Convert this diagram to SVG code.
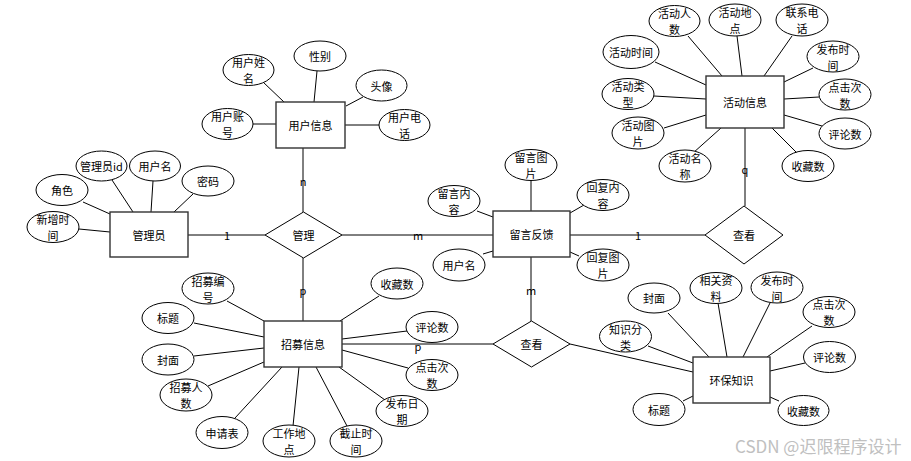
<svg xmlns="http://www.w3.org/2000/svg" width="911" height="461" viewBox="0 0 911 461">
<style>
text{font-family:"Noto Sans CJK SC","Liberation Sans",sans-serif;font-size:11px;fill:#000;text-anchor:middle;dominant-baseline:central}
.e{fill:#fff;stroke:#000;stroke-width:1}
.r{fill:#fff;stroke:#333;stroke-width:1.4}
.d{fill:#fff;stroke:#000;stroke-width:1}
.c line{stroke:#000;stroke-width:1}
.lb{font-size:11px}
.wm{font-size:17px;fill:#c0c0c0;text-anchor:start}
</style>
<rect width="911" height="461" fill="#fff"/>
<g class="c" id="connectors">
<line x1="263" y1="82" x2="284" y2="102"/>
<line x1="317" y1="71" x2="314" y2="102"/>
<line x1="363" y1="97" x2="346" y2="106"/>
<line x1="253" y1="124" x2="276" y2="124"/>
<line x1="345" y1="125" x2="379" y2="125"/>
<line x1="112" y1="180" x2="133" y2="212"/>
<line x1="153" y1="181" x2="151" y2="212"/>
<line x1="193" y1="194" x2="174" y2="212"/>
<line x1="83" y1="202" x2="110" y2="214"/>
<line x1="79" y1="229" x2="110" y2="232"/>
<line x1="688" y1="36" x2="722" y2="76"/>
<line x1="737" y1="36" x2="742" y2="76"/>
<line x1="792" y1="36" x2="764" y2="76"/>
<line x1="655" y1="62" x2="706" y2="85"/>
<line x1="813" y1="68" x2="784" y2="82"/>
<line x1="654" y1="96" x2="706" y2="99"/>
<line x1="819" y1="97" x2="784" y2="99"/>
<line x1="664" y1="128" x2="706" y2="115"/>
<line x1="822" y1="126" x2="784" y2="115"/>
<line x1="693" y1="153" x2="721" y2="128"/>
<line x1="797" y1="153" x2="772" y2="128"/>
<line x1="531" y1="180" x2="531" y2="211"/>
<line x1="477" y1="211" x2="493" y2="217"/>
<line x1="584" y1="205" x2="570" y2="213"/>
<line x1="483" y1="254" x2="493" y2="251"/>
<line x1="579" y1="256" x2="570" y2="252"/>
<line x1="668" y1="313" x2="709" y2="357"/>
<line x1="718" y1="303" x2="727" y2="357"/>
<line x1="770" y1="303" x2="743" y2="357"/>
<line x1="812" y1="326" x2="767" y2="357"/>
<line x1="648" y1="346" x2="693" y2="363"/>
<line x1="805" y1="363" x2="770" y2="371"/>
<line x1="683" y1="401" x2="693" y2="396"/>
<line x1="779" y1="401" x2="770" y2="397"/>
<line x1="227" y1="301" x2="264" y2="321"/>
<line x1="194" y1="323" x2="264" y2="337"/>
<line x1="194" y1="356" x2="264" y2="348"/>
<line x1="208" y1="386" x2="264" y2="362"/>
<line x1="235" y1="418" x2="282" y2="367"/>
<line x1="293" y1="426" x2="299" y2="367"/>
<line x1="347" y1="426" x2="316" y2="367"/>
<line x1="385" y1="400" x2="339" y2="367"/>
<line x1="408" y1="368" x2="342" y2="350"/>
<line x1="407" y1="331" x2="342" y2="339"/>
<line x1="379" y1="296" x2="340" y2="321"/>
<line x1="303" y1="148" x2="303" y2="212"/>
<line x1="188" y1="235" x2="265" y2="235"/>
<line x1="342" y1="235" x2="493" y2="235"/>
<line x1="570" y1="235" x2="705" y2="235"/>
<line x1="745" y1="128" x2="745" y2="206"/>
<line x1="531" y1="257" x2="531" y2="321"/>
<line x1="303" y1="258" x2="303" y2="321"/>
<line x1="342" y1="344" x2="493" y2="344"/>
<line x1="570" y1="344" x2="693" y2="372"/>
</g>
<g id="cardinalities">
<text class="lb" x="303" y="181">n</text>
<text class="lb" x="227" y="235">1</text>
<text class="lb" x="418" y="235">m</text>
<text class="lb" x="638" y="235">1</text>
<text class="lb" x="745" y="169">q</text>
<text class="lb" x="531" y="290">m</text>
<text class="lb" x="303" y="290">p</text>
<text class="lb" x="418" y="346">p</text>
</g>
<g id="user-info"><rect class="r" x="276" y="102" width="69" height="46"/><text x="310.5" y="125">用户信息</text></g>
<g id="admin"><rect class="r" x="110" y="212" width="78" height="45"/><text x="149" y="235">管理员</text></g>
<g id="activity"><rect class="r" x="706" y="76" width="78" height="52"/><text x="745" y="102">活动信息</text></g>
<g id="feedback"><rect class="r" x="493" y="211" width="77" height="46"/><text x="531.5" y="234">留言反馈</text></g>
<g id="recruit"><rect class="r" x="264" y="321" width="78" height="46"/><text x="303" y="344">招募信息</text></g>
<g id="env"><rect class="r" x="693" y="357" width="77" height="46"/><text x="731.5" y="380">环保知识</text></g>
<g id="rel-manage"><polygon class="d" points="265,235 303.5,212 342,235 303.5,258"/><text x="303.5" y="235">管理</text></g>
<g id="rel-view1"><polygon class="d" points="705,235 744,206 783,235 744,264"/><text x="744" y="235">查看</text></g>
<g id="rel-view2"><polygon class="d" points="493,344 531.5,321 570,344 531.5,367"/><text x="531.5" y="344">查看</text></g>
<g id="a-user-name"><ellipse class="e" cx="248.5" cy="70" rx="25.5" ry="15.5"/><text x="248.5" y="62">用户姓<tspan x="248.5" dy="16">名</tspan></text></g>
<g id="a-gender"><ellipse class="e" cx="320" cy="56" rx="26" ry="15"/><text x="320" y="56">性别</text></g>
<g id="a-avatar"><ellipse class="e" cx="381.5" cy="85.5" rx="25.5" ry="15.5"/><text x="381.5" y="85.5">头像</text></g>
<g id="a-user-acct"><ellipse class="e" cx="227.5" cy="124" rx="25.5" ry="15.5"/><text x="227.5" y="116">用户账<tspan x="227.5" dy="16">号</tspan></text></g>
<g id="a-user-phone"><ellipse class="e" cx="404.5" cy="125" rx="25.5" ry="15.5"/><text x="404.5" y="117">用户电<tspan x="404.5" dy="16">话</tspan></text></g>
<g id="a-admin-id"><ellipse class="e" cx="101.5" cy="166" rx="25.5" ry="15"/><text x="101.5" y="166">管理员id</text></g>
<g id="a-admin-uname"><ellipse class="e" cx="155" cy="166" rx="25.5" ry="15"/><text x="155" y="166">用户名</text></g>
<g id="a-admin-pwd"><ellipse class="e" cx="208" cy="181" rx="26" ry="15"/><text x="208" y="181">密码</text></g>
<g id="a-admin-role"><ellipse class="e" cx="62" cy="190" rx="26" ry="15.5"/><text x="62" y="190">角色</text></g>
<g id="a-admin-time"><ellipse class="e" cx="53" cy="227" rx="26" ry="15.5"/><text x="53" y="219">新增时<tspan x="53" dy="16">间</tspan></text></g>
<g id="a-act-num"><ellipse class="e" cx="674.5" cy="21" rx="25.5" ry="15.5"/><text x="674.5" y="13">活动人<tspan x="674.5" dy="16">数</tspan></text></g>
<g id="a-act-place"><ellipse class="e" cx="735" cy="20" rx="26" ry="16"/><text x="735" y="12">活动地<tspan x="735" dy="16">点</tspan></text></g>
<g id="a-act-phone"><ellipse class="e" cx="802" cy="20" rx="26" ry="16"/><text x="802" y="12">联系电<tspan x="802" dy="16">话</tspan></text></g>
<g id="a-act-time"><ellipse class="e" cx="631" cy="52" rx="28" ry="16.5"/><text x="631" y="52">活动时间</text></g>
<g id="a-act-pub"><ellipse class="e" cx="833" cy="56.5" rx="26" ry="15.5"/><text x="833" y="48.5">发布时<tspan x="833" dy="16">间</tspan></text></g>
<g id="a-act-type"><ellipse class="e" cx="628" cy="94" rx="26" ry="15.5"/><text x="628" y="86">活动类<tspan x="628" dy="16">型</tspan></text></g>
<g id="a-act-click"><ellipse class="e" cx="845" cy="94.5" rx="26" ry="15.5"/><text x="845" y="86.5">点击次<tspan x="845" dy="16">数</tspan></text></g>
<g id="a-act-img"><ellipse class="e" cx="638" cy="133" rx="26" ry="16"/><text x="638" y="125">活动图<tspan x="638" dy="16">片</tspan></text></g>
<g id="a-act-comm"><ellipse class="e" cx="845" cy="133.5" rx="26" ry="15.5"/><text x="845" y="133.5">评论数</text></g>
<g id="a-act-name"><ellipse class="e" cx="685" cy="166" rx="26" ry="16"/><text x="685" y="158">活动名<tspan x="685" dy="16">称</tspan></text></g>
<g id="a-act-fav"><ellipse class="e" cx="808" cy="166" rx="26" ry="15.5"/><text x="808" y="166">收藏数</text></g>
<g id="a-msg-img"><ellipse class="e" cx="531" cy="165" rx="26" ry="15.5"/><text x="531" y="157">留言图<tspan x="531" dy="16">片</tspan></text></g>
<g id="a-msg-content"><ellipse class="e" cx="454" cy="201" rx="26" ry="15.5"/><text x="454" y="193">留言内<tspan x="454" dy="16">容</tspan></text></g>
<g id="a-reply-content"><ellipse class="e" cx="603" cy="195" rx="26" ry="15.5"/><text x="603" y="187">回复内<tspan x="603" dy="16">容</tspan></text></g>
<g id="a-msg-user"><ellipse class="e" cx="459" cy="265" rx="26" ry="16"/><text x="459" y="265">用户名</text></g>
<g id="a-reply-img"><ellipse class="e" cx="603" cy="265" rx="26" ry="16"/><text x="603" y="257">回复图<tspan x="603" dy="16">片</tspan></text></g>
<g id="a-env-cover"><ellipse class="e" cx="654" cy="298" rx="26" ry="15"/><text x="654" y="298">封面</text></g>
<g id="a-env-res"><ellipse class="e" cx="716" cy="288" rx="26" ry="15.5"/><text x="716" y="280">相关资<tspan x="716" dy="16">料</tspan></text></g>
<g id="a-env-pub"><ellipse class="e" cx="777" cy="287.5" rx="26" ry="15.5"/><text x="777" y="279.5">发布时<tspan x="777" dy="16">间</tspan></text></g>
<g id="a-env-click"><ellipse class="e" cx="829" cy="312" rx="26" ry="15.5"/><text x="829" y="304">点击次<tspan x="829" dy="16">数</tspan></text></g>
<g id="a-env-cat"><ellipse class="e" cx="625.5" cy="336.5" rx="26" ry="15.5"/><text x="625.5" y="328.5">知识分<tspan x="625.5" dy="16">类</tspan></text></g>
<g id="a-env-comm"><ellipse class="e" cx="829.5" cy="357" rx="26" ry="15.5"/><text x="829.5" y="357">评论数</text></g>
<g id="a-env-title"><ellipse class="e" cx="659" cy="409.5" rx="26" ry="16"/><text x="659" y="409.5">标题</text></g>
<g id="a-env-fav"><ellipse class="e" cx="803.5" cy="410.5" rx="25.5" ry="15"/><text x="803.5" y="410.5">收藏数</text></g>
<g id="a-rec-no"><ellipse class="e" cx="208" cy="288.5" rx="26" ry="15.5"/><text x="208" y="280.5">招募编<tspan x="208" dy="16">号</tspan></text></g>
<g id="a-rec-title"><ellipse class="e" cx="168" cy="318" rx="26" ry="15.5"/><text x="168" y="318">标题</text></g>
<g id="a-rec-cover"><ellipse class="e" cx="168" cy="359.5" rx="26" ry="15.5"/><text x="168" y="359.5">封面</text></g>
<g id="a-rec-num"><ellipse class="e" cx="186" cy="395" rx="26" ry="16"/><text x="186" y="387">招募人<tspan x="186" dy="16">数</tspan></text></g>
<g id="a-rec-form"><ellipse class="e" cx="222" cy="432.5" rx="26" ry="16"/><text x="222" y="432.5">申请表</text></g>
<g id="a-rec-place"><ellipse class="e" cx="289" cy="441" rx="26" ry="16"/><text x="289" y="433">工作地<tspan x="289" dy="16">点</tspan></text></g>
<g id="a-rec-deadline"><ellipse class="e" cx="356" cy="441" rx="26" ry="16"/><text x="356" y="433">截止时<tspan x="356" dy="16">间</tspan></text></g>
<g id="a-rec-pub"><ellipse class="e" cx="402" cy="411" rx="26" ry="15.5"/><text x="402" y="403">发布日<tspan x="402" dy="16">期</tspan></text></g>
<g id="a-rec-click"><ellipse class="e" cx="432" cy="375" rx="26" ry="15.5"/><text x="432" y="367">点击次<tspan x="432" dy="16">数</tspan></text></g>
<g id="a-rec-comm"><ellipse class="e" cx="432" cy="327" rx="26" ry="15.5"/><text x="432" y="327">评论数</text></g>
<g id="a-rec-fav"><ellipse class="e" cx="397" cy="283.5" rx="26" ry="15.5"/><text x="397" y="283.5">收藏数</text></g>
<text class="wm" x="735" y="445">CSDN @迟限程序设计</text>
</svg>
